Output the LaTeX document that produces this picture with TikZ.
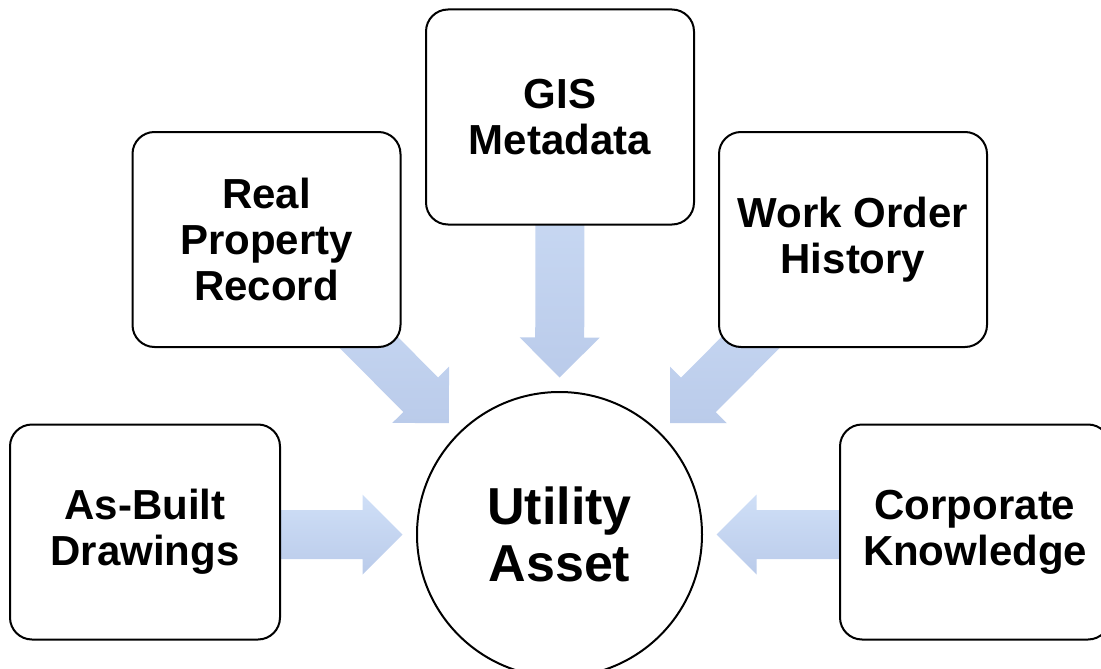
\documentclass[tikz,border=0pt]{standalone}
\usepackage{fontspec}
\setmainfont{Liberation Sans}
\usetikzlibrary{calc}
\pgfdeclarelayer{background}
\pgfsetlayers{background,main}

\definecolor{arrowtop}{RGB}{207,223,247}
\definecolor{arrowbot}{RGB}{186,203,234}

\tikzset{
  source/.style={draw=black, line width=2pt, fill=white, rounded corners=22pt,
    minimum width=268pt, minimum height=215pt, inner sep=0pt, align=center,
    font=\fontsize{42}{46}\selectfont\bfseries},
  hub/.style={draw=black, circle, line width=2pt, fill=white, minimum size=285pt,
    inner sep=0pt, align=center, font=\fontsize{52}{57}\selectfont\bfseries},
  feed/.style={top color=arrowtop, bottom color=arrowbot, draw=none}
}

% block arrow from a tail point to a tip point: shaft half width 24.5pt,
% head half width 40pt, head length 40pt
\newcommand\feedarrow[2]{%
  \coordinate (fa-h) at ($(#2)!40pt!(#1)$);
  \shade[feed] ($(#1)!24.5pt!90:(#2)$) -- ($(fa-h)!24.5pt!90:(#2)$)
    -- ($(fa-h)!40pt!90:(#2)$) -- (#2) -- ($(fa-h)!40pt!-90:(#2)$)
    -- ($(fa-h)!24.5pt!-90:(#2)$) -- ($(#1)!24.5pt!-90:(#2)$) -- cycle;
}

\begin{document}
\begin{tikzpicture}[x=1pt, y=-1pt]
  \useasboundingbox (0,0) rectangle (1101,669);

  % sources of information
  \node[source] (rpr) at (266.5,239.5) {Real\\Property\\Record};
  \node[source] (gis) at (560,117) {GIS\\Metadata};
  \node[source] (woh) at (853,239.5) {Work Order\\History};
  \node[source, minimum width=270pt] (asb) at (145,532) {As-Built\\Drawings};
  \node[source, minimum width=270pt] (ck) at (975,532) {Corporate\\Knowledge};

  % the asset in the middle
  \node[hub] (ua) at (559.5,534.5) {Utility\\Asset};

  % arrow tips, just outside the circle
  \foreach \s in {rpr,gis,woh}{
    \coordinate (tip-\s) at ($(ua.center)!157pt!(\s.center)$);
  }
  \coordinate (tip-asb) at ($(ua.center)+(-157,0)$);
  \coordinate (tip-ck) at ($(ua.center)+(157,0)$);

  \begin{pgfonlayer}{background}
    \foreach \s in {rpr,gis,woh}{
      \feedarrow{\s.center}{tip-\s}
    }
    \feedarrow{asb.center |- tip-asb}{tip-asb}
    \feedarrow{ck.center |- tip-ck}{tip-ck}
  \end{pgfonlayer}
\end{tikzpicture}
\end{document}
